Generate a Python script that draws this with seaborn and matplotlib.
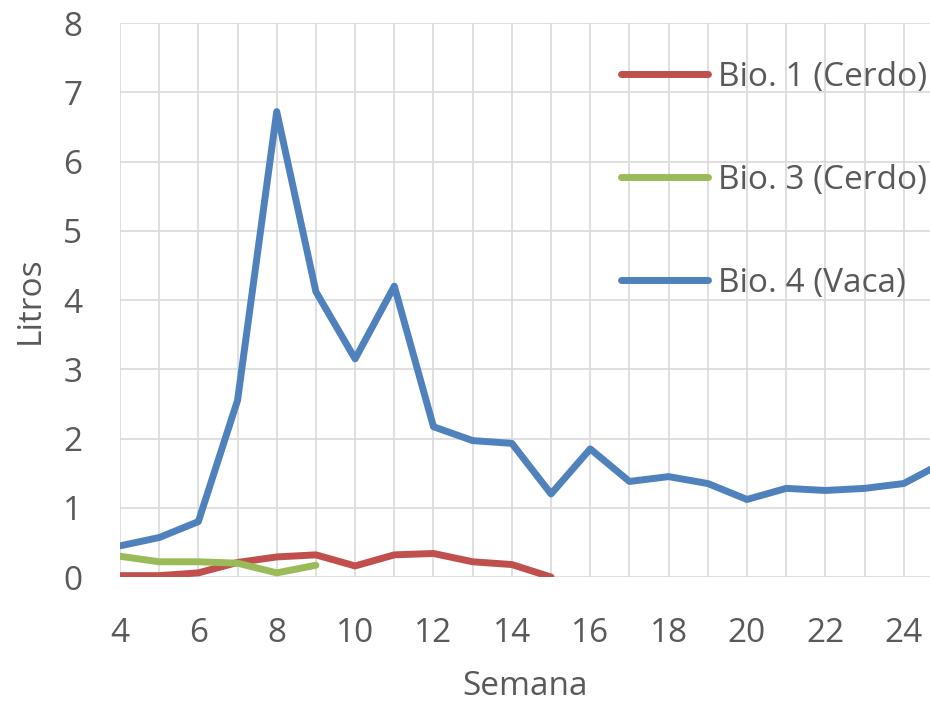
import pandas as pd
import matplotlib.pyplot as plt
import seaborn as sns
from matplotlib.ticker import MultipleLocator

# Datos
semanas_bio1 = [4, 5, 6, 7, 8, 9, 10, 11, 12, 13, 14, 15]
bio1 = [0.02, 0.02, 0.06, 0.21, 0.29, 0.32, 0.16, 0.32, 0.34, 0.22, 0.18, 0.0]

semanas_bio3 = [4, 5, 6, 7, 8, 9]
bio3 = [0.30, 0.22, 0.22, 0.20, 0.06, 0.17]

semanas_bio4 = list(range(4, 26))
bio4 = [0.45, 0.57, 0.80, 2.55, 6.72, 4.12, 3.15, 4.20, 2.17, 1.97, 1.93, 1.20,
        1.85, 1.38, 1.45, 1.35, 1.12, 1.28, 1.25, 1.28, 1.35, 1.65]

etiquetas = ['Bio. 1 (Cerdo)', 'Bio. 3 (Cerdo)', 'Bio. 4 (Vaca)']
colores = ['#C0504D', '#9BBB59', '#4F81BD']

sns.set_style('white')
plt.rcParams['font.family'] = ['Open Sans', 'DejaVu Sans']

fig = plt.figure(figsize=(9.3, 7.08), dpi=100)
ax = fig.add_axes([0.129, 0.185, 0.871, 0.7825])

series = [(semanas_bio1, bio1), (semanas_bio3, bio3), (semanas_bio4, bio4)]
for (x, y), lab, col in zip(series, etiquetas, colores):
    df = pd.DataFrame({'Semana': x, 'Litros': y})
    sns.lineplot(data=df, x='Semana', y='Litros', ax=ax, color=col, linewidth=5,
                 label=lab, solid_capstyle='round', solid_joinstyle='round')

ax.set_xlim(4, 24.67)
ax.set_ylim(0, 8)
ax.xaxis.set_major_locator(MultipleLocator(2))
ax.xaxis.set_minor_locator(MultipleLocator(1))
ax.yaxis.set_major_locator(MultipleLocator(1))
ax.grid(True, which='both', color='#D9D9D9', linewidth=1.2)
ax.set_axisbelow(True)
for s in ax.spines.values():
    s.set_visible(False)
ax.tick_params(which='both', length=0, labelsize=24, labelcolor='#595959')
ax.tick_params(axis='x', pad=29)
ax.tick_params(axis='y', pad=27)

ax.set_xlabel('Semana', fontsize=24, color='#595959', labelpad=14)
ax.set_ylabel('Litros', fontsize=24, color='#595959', labelpad=12)

leg = ax.legend(loc='upper right', bbox_to_anchor=(0.997, 0.914), bbox_transform=fig.transFigure,
                frameon=False, fontsize=24, handlelength=2.6, handletextpad=0.3,
                labelspacing=2.1, borderpad=0, borderaxespad=0)
for t in leg.get_texts():
    t.set_color('#595959')

fig.savefig('out.png', dpi=100)
